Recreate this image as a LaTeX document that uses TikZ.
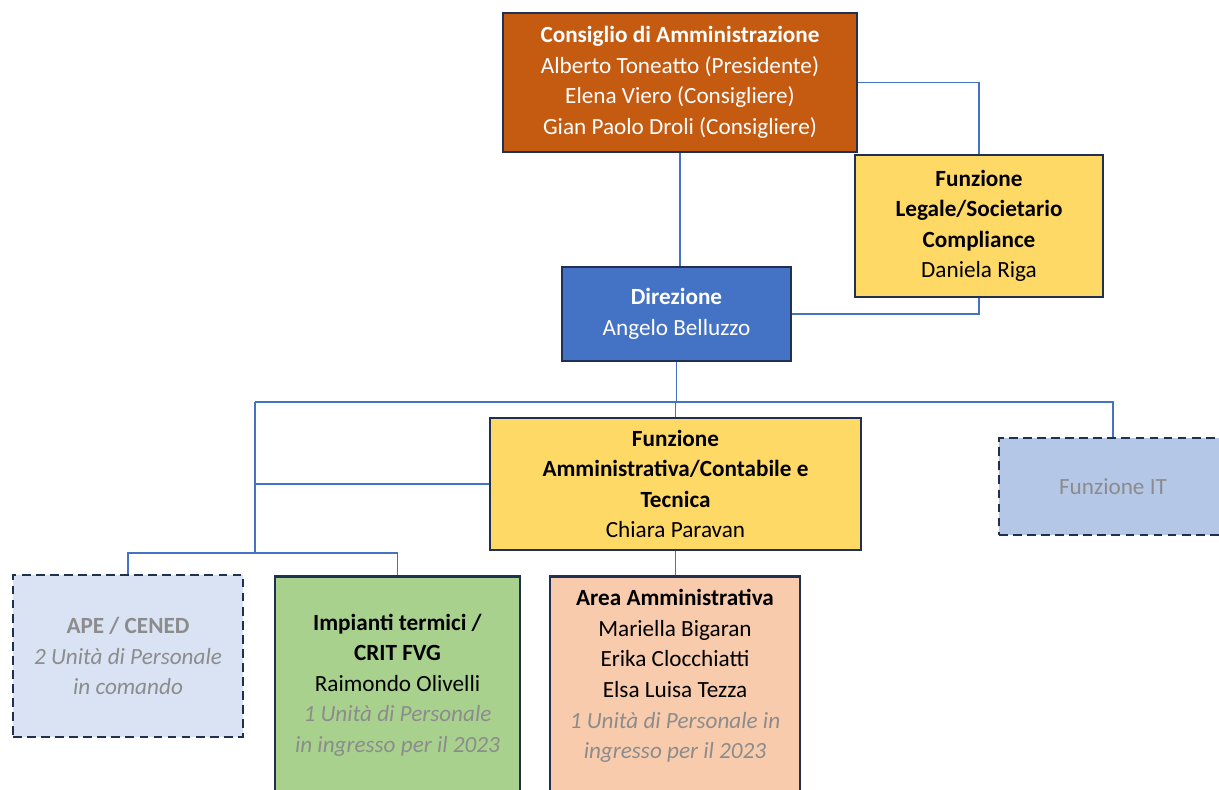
\documentclass[tikz,border=0pt]{standalone}
\usepackage{fontspec}
\setmainfont{Carlito}
\definecolor{bordo}{HTML}{1F3050}
\definecolor{linea}{HTML}{4472C4}
\definecolor{arancio}{HTML}{C55A11}
\definecolor{blu}{HTML}{4472C4}
\definecolor{giallo}{HTML}{FFD966}
\definecolor{azzurro}{HTML}{B4C7E7}
\definecolor{celeste}{HTML}{DAE3F3}
\definecolor{verde}{HTML}{A9D18E}
\definecolor{pesca}{HTML}{F8CBAD}
\definecolor{grigio}{HTML}{8C8C8C}
\newcommand{\Nota}[1]{{\color{grigio}\itshape #1}}

\begin{document}
\begin{tikzpicture}[x=0.02cm, y=-0.02cm,
  testo/.style={align=center, inner sep=0pt, font=\fontsize{13.2}{17.4}\selectfont},
  box/.style={testo, draw=bordo, line width=1.6pt},
  tratteggio/.style={box, dash pattern=on 5pt off 3pt},
  link/.style={draw=linea, line width=0.7pt}
  ]
  \useasboundingbox (0,0) rectangle (1219,790);
  \clip (0,0) rectangle (1219,790);

  \node[box, fill=arancio, text=white, minimum width=7.08cm, minimum height=2.78cm] (cda) at (680,82.5)
    {\textbf{Consiglio di Amministrazione}\\Alberto Toneatto (Presidente)\\Elena Viero (Consigliere)\\Gian Paolo Droli (Consigliere)};
  \node[box, fill=giallo, minimum width=4.96cm, minimum height=2.84cm] (leg) at (979,226)
    {\textbf{Funzione}\\\textbf{Legale/Societario}\\\textbf{Compliance}\\Daniela Riga};
  \node[box, fill=blu, text=white, minimum width=4.58cm, minimum height=1.88cm] (dir) at (676.5,314)
    {\textbf{Direzione}\\Angelo Belluzzo};
  \node[box, fill=giallo, minimum width=7.42cm, minimum height=2.64cm] (fa) at (675.5,484)
    {\textbf{Funzione}\\\textbf{Amministrativa/Contabile e}\\\textbf{Tecnica}\\Chiara Paravan};
  \node[tratteggio, fill=azzurro, text=grigio, minimum width=4.56cm, minimum height=1.94cm] (it) at (1113,486.5)
    {Funzione IT};
  \node[tratteggio, fill=celeste, minimum width=4.6cm, minimum height=3.24cm] (ape) at (128,656)
    {{\color{grigio}\textbf{APE / CENED}}\\\Nota{2 Unità di Personale}\\\Nota{in comando}};
  \node[box, fill=verde, minimum width=4.9cm, minimum height=4.6cm, anchor=north] (imp) at (397.5,575) {};
  \node[testo] (imptesto) at (397.5,685)
    {\textbf{Impianti termici /}\\\textbf{CRIT FVG}\\Raimondo Olivelli\\\Nota{1 Unità di Personale}\\\Nota{in ingresso per il 2023}};
  \node[box, fill=pesca, minimum width=5cm, minimum height=4.6cm, anchor=north] (area) at (675,575) {};
  \node[testo] (areatesto) at (675,676)
    {\textbf{Area Amministrativa}\\Mariella Bigaran\\Erika Clocchiatti\\Elsa Luisa Tezza\\\Nota{1 Unità di Personale in}\\\Nota{ingresso per il 2023}};

  \coordinate (busL) at (255,402);
  \coordinate (busR) at (1113,402);
  \coordinate (stem) at (255,553);

  \draw[link] (cda.south) -- (cda.south |- dir.north);
  \draw[link] (cda.east) -| (leg.north);
  \draw[link] (leg.south) |- (dir.east);
  \draw[link] (dir.south) -- (dir.south |- busL);
  \draw[link] (busL) -- (busR) -- (it.north);
  \draw[link] (fa.north |- busL) -- (fa.north);
  \draw[link] (busL) -- (stem);
  \draw[link] (busL |- fa.west) -- (fa.west);
  \draw[link] (ape.north) |- (stem) -| (imp.north);
  \draw[link] (fa.south) -- (fa.south |- area.north);
\end{tikzpicture}
\end{document}
